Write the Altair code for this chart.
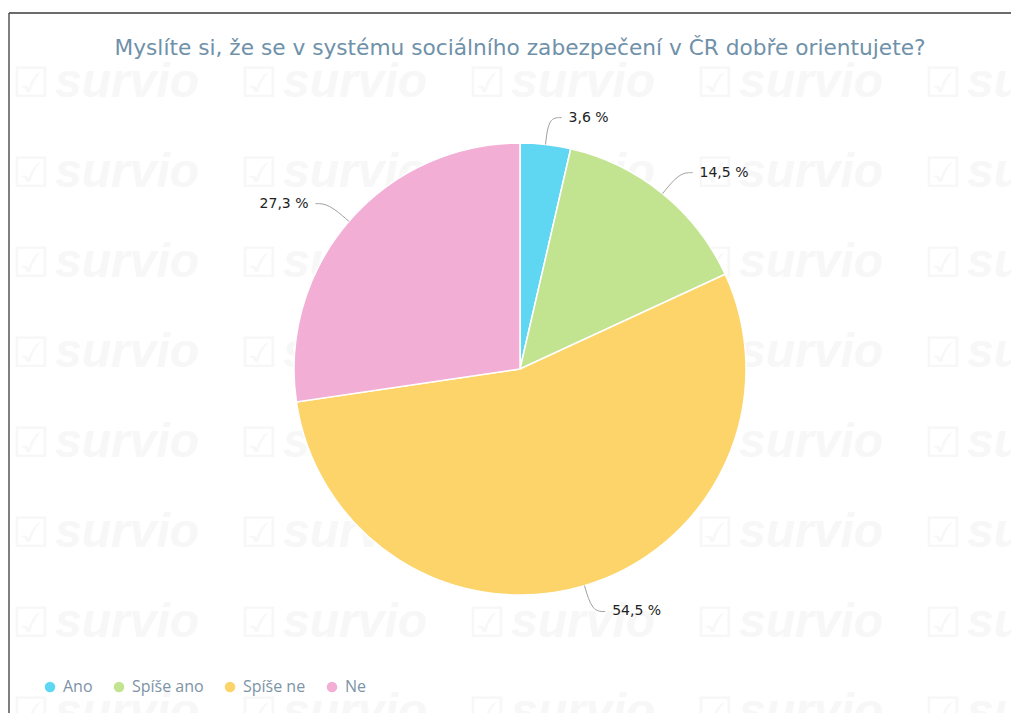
import math
import altair as alt
import pandas as pd

# ---------------- data ----------------
title_text = "Myslíte si, že se v systému sociálního zabezpečení v ČR dobře orientujete?"
categories = ["Ano", "Spíše ano", "Spíše ne", "Ne"]
percent = [3.6, 14.5, 54.5, 27.3]
labels = ["3,6 %", "14,5 %", "54,5 %", "27,3 %"]
colors = ["#5fd6f2", "#c2e490", "#fdd469", "#f3aed5"]
watermark_word = "survio"

# ---------------- layout constants ----------------
W, H = 1002, 700
CX, CY, R = 511, 356, 226

# connector / label geometry derived from the data
total = sum(percent)
conn_rows, lab_rows = [], []
cum = 0.0
for c, p, l in zip(categories, percent, labels):
    mid = (cum + p / 2) / total * 2 * math.pi
    cum += p
    s, co = math.sin(mid), math.cos(mid)
    side = 1 if s >= 0 else -1
    ax, ay = CX + R * s, CY - R * co
    bx, by = CX + (R + 27) * s, CY - (R + 27) * co
    conn_rows += [
        dict(cat=c, step=0, px=ax, py=ay),
        dict(cat=c, step=1, px=bx, py=by),
        dict(cat=c, step=2, px=bx + side * 13, py=by),
    ]
    lab_rows.append(dict(cat=c, label=l, px=bx + side * 20, py=by, side=side))

conn_df = pd.DataFrame(conn_rows)
lab_df = pd.DataFrame(lab_rows)
pie_df = pd.DataFrame({"cat": categories, "value": percent, "order": list(range(len(categories)))})

wm_rows = []
for i in range(5):
    for k in range(8):
        wm_rows.append(dict(tx=46 + 228 * i, cx=3 + 228 * i, y=84 + 90 * k, word=watermark_word, chk="☑"))
wm_df = pd.DataFrame(wm_rows)

# ---------------- layers ----------------
wm_text = alt.Chart(wm_df).mark_text(
    font="Liberation Sans", fontWeight="bold", fontStyle="italic", fontSize=48,
    color="#f7f7f7", align="left", baseline="alphabetic"
).encode(
    x=alt.X("tx:Q", scale=None, axis=None),
    y=alt.Y("y:Q", scale=None, axis=None),
    text="word:N",
)
wm_check = alt.Chart(wm_df).mark_text(
    font="DejaVu Sans", fontSize=42, color="#f7f7f7", align="left", baseline="alphabetic"
).encode(
    x=alt.X("cx:Q", scale=None, axis=None),
    y=alt.Y("y:Q", scale=None, axis=None),
    text="chk:N",
)

border_df = pd.DataFrame({"a": [0]})
top_rule = alt.Chart(border_df).mark_rule(color="#3a3a3a", strokeWidth=1.3).encode(
    x=alt.value(0), x2=alt.value(W), y=alt.value(0)
)
left_rule = alt.Chart(border_df).mark_rule(color="#3a3a3a", strokeWidth=1.3).encode(
    x=alt.value(0), y=alt.value(0), y2=alt.value(H)
)

pie = alt.Chart(pie_df).mark_arc(outerRadius=R, stroke="white", strokeWidth=1.5).encode(
    theta=alt.Theta("value:Q", stack=True),
    order=alt.Order("order:Q"),
    color=alt.Color(
        "cat:N",
        sort=categories,
        scale=alt.Scale(domain=categories, range=colors),
        legend=alt.Legend(
            orient="none", legendX=33, legendY=666, direction="horizontal", title=None,
            symbolType="circle", symbolSize=110, symbolStrokeWidth=0, symbolOpacity=1,
            labelFont="Open Sans", labelFontSize=16, labelColor="#7d93a6",
            columnPadding=18, labelOffset=5,
        ),
    ),
    x=alt.value(CX),
    y=alt.value(CY),
)

connectors = alt.Chart(conn_df).mark_line(color="#a0a0a0", strokeWidth=1, interpolate="basis").encode(
    x=alt.X("px:Q", scale=None, axis=None),
    y=alt.Y("py:Q", scale=None, axis=None),
    detail="cat:N",
    order="step:Q",
)

lab_right = alt.Chart(lab_df).transform_filter("datum.side > 0").mark_text(
    font="DejaVu Sans", fontSize=14, color="#222222", align="left", baseline="middle"
).encode(
    x=alt.X("px:Q", scale=None, axis=None),
    y=alt.Y("py:Q", scale=None, axis=None),
    text="label:N",
)
lab_left = alt.Chart(lab_df).transform_filter("datum.side < 0").mark_text(
    font="DejaVu Sans", fontSize=14, color="#222222", align="right", baseline="middle"
).encode(
    x=alt.X("px:Q", scale=None, axis=None),
    y=alt.Y("py:Q", scale=None, axis=None),
    text="label:N",
)

title = alt.Chart(pd.DataFrame({"t": [title_text]})).mark_text(
    font="DejaVu Sans", fontSize=21.7, color="#6f91a9", align="center", baseline="middle"
).encode(x=alt.value(CX), y=alt.value(35), text="t:N")

chart = alt.layer(
    wm_text, wm_check, top_rule, left_rule, pie, connectors, lab_right, lab_left, title
).properties(
    width=W, height=H,
    autosize="none",
    padding={"left": 1, "top": 5, "right": 0, "bottom": 0},
).configure_view(stroke=None)

chart.save("out.html", embed_options={"renderer": "svg", "actions": False})
